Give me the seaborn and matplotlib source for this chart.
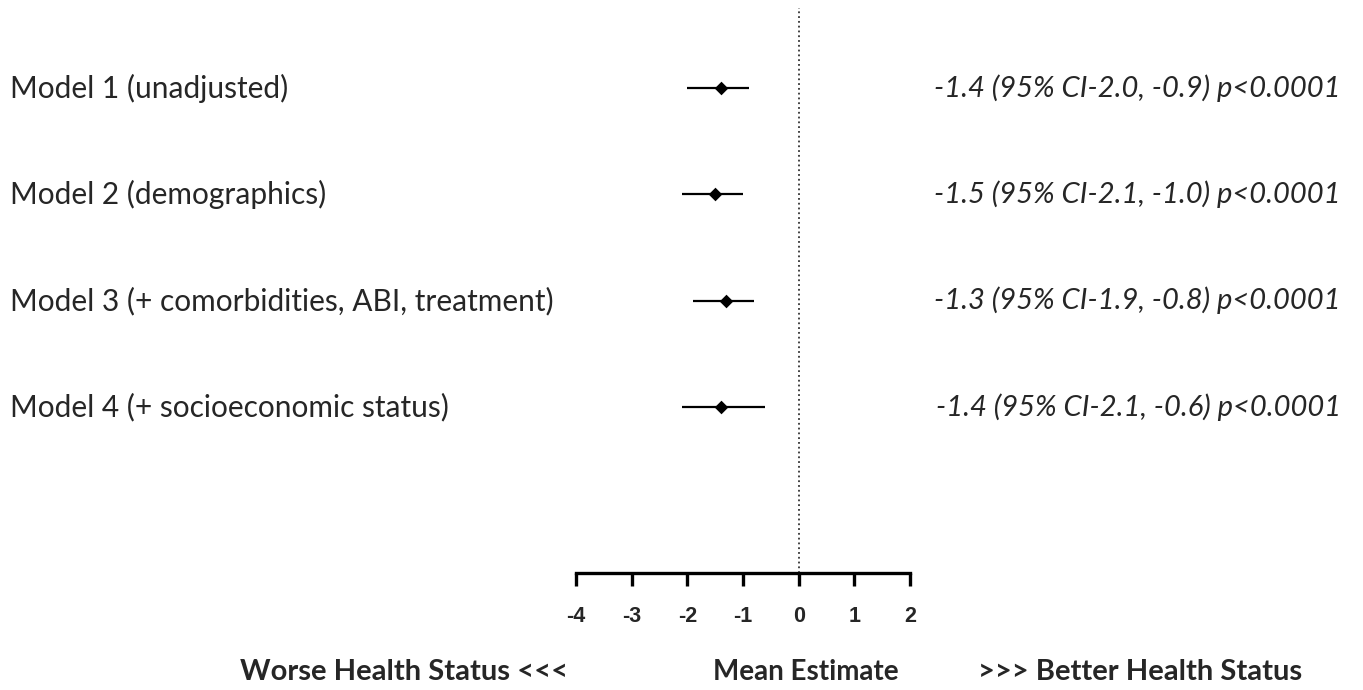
import numpy as np
import pandas as pd
import matplotlib
matplotlib.use("Agg")
import matplotlib.pyplot as plt
import matplotlib.transforms as mtransforms
import seaborn as sns

# Data
models = ["Model 1 (unadjusted)",
          "Model 2 (demographics)",
          "Model 3 (+ comorbidities, ABI, treatment)",
          "Model 4 (+ socioeconomic status)"]
estimate = [-1.4, -1.5, -1.3, -1.4]
ci_low = [-2.0, -2.1, -1.9, -2.1]
ci_high = [-0.9, -1.0, -0.8, -0.6]
result_text = ["-1.4 (95% CI-2.0, -0.9) p<0.0001",
               "-1.5 (95% CI-2.1, -1.0) p<0.0001",
               "-1.3 (95% CI-1.9, -0.8) p<0.0001",
               "-1.4 (95% CI-2.1, -0.6) p<0.0001"]
x_ticks = [-4, -3, -2, -1, 0, 1, 2]

df = pd.DataFrame({"model": models, "estimate": estimate,
                   "lo": ci_low, "hi": ci_high, "row": np.arange(len(models))})

sns.set_style("white")
plt.rcParams['font.family'] = ['Lato', 'DejaVu Sans']

W, H = 1363, 690
fig = plt.figure(figsize=(W / 100, H / 100), dpi=100)
ax = fig.add_axes([576 / W, (H - 573) / H, 334 / W, (573 - 8) / H])

# confidence intervals and point estimates
ax.hlines(df["row"], df["lo"], df["hi"], color="black", lw=1.6)
sns.scatterplot(data=df, x="estimate", y="row", marker="D", color="black",
                s=48, edgecolor="black", linewidth=0, ax=ax, zorder=3)

ax.axvline(0, ls=":", color="#333333", lw=1.3)

ax.set_xlim(-4, 2)
ax.set_ylim(4.561, -0.752)
ax.set_xticks(x_ticks)
ax.set_xticklabels([str(t) for t in x_ticks], family="Liberation Sans",
                   fontweight="bold", fontsize=15.5)
ax.set_yticks([])
ax.set_xlabel("")
ax.set_ylabel("")
for s in ["top", "left", "right"]:
    ax.spines[s].set_visible(False)
ax.spines["bottom"].set_linewidth(2.4)
ax.spines["bottom"].set_color("black")
ax.tick_params(axis="x", direction="out", length=9, width=2.4, pad=15,
               color="black", bottom=True)

# row labels and result text
trans = mtransforms.blended_transform_factory(fig.transFigure, ax.transData)
for _, r in df.iterrows():
    ax.text(10 / W, r["row"], r["model"], transform=trans, ha="left",
            va="center", fontsize=21.5, clip_on=False)
for i, t in enumerate(result_text):
    ax.text(1341 / W, df["row"][i], t, transform=trans, ha="right",
            va="center", fontsize=21, style="italic", clip_on=False)

# bottom direction labels
fig.text(404 / W, (H - 672) / H, "Worse Health Status <<<", ha="center",
         va="center", fontsize=21, fontweight="bold")
fig.text(806 / W, (H - 672) / H, "Mean Estimate", ha="center",
         va="center", fontsize=20, fontweight="bold")
fig.text(1140 / W, (H - 672) / H, ">>> Better Health Status", ha="center",
         va="center", fontsize=21, fontweight="bold")

fig.savefig("out.png", dpi=100)
